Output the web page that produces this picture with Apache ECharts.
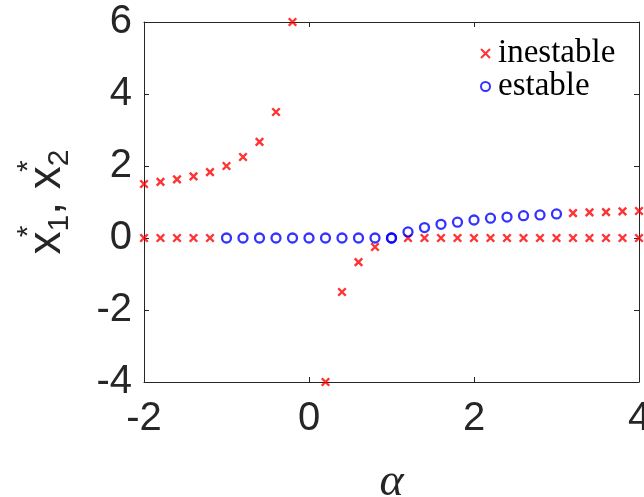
<!DOCTYPE html>
<html>
<head>
<meta charset="utf-8">
<script src="https://cdn.jsdelivr.net/npm/echarts@6/dist/echarts.min.js"></script>
<style>
  html, body { margin: 0; padding: 0; background: #ffffff; }
  #chart { width: 644px; height: 497px; }
</style>
</head>
<body>
<div id="chart"></div>
<script>
// Parameter sweep of alpha and the two equilibrium branches
const alpha = [-2, -1.8, -1.6, -1.4, -1.2, -1, -0.8, -0.6, -0.4, -0.2, 0,
               0.2, 0.4, 0.6, 0.8, 1, 1.2, 1.4, 1.6, 1.8, 2,
               2.2, 2.4, 2.6, 2.8, 3, 3.2, 3.4, 3.6, 3.8, 4];

// trivial equilibrium x1* = 0
const branch1 = [0, 0, 0, 0, 0, 0, 0, 0, 0, 0, 0,
                 0, 0, 0, 0, 0, 0, 0, 0, 0, 0,
                 0, 0, 0, 0, 0, 0, 0, 0, 0, 0];

// non-trivial equilibrium x2* (no value at alpha = 0)
const branch2 = [1.5, 1.56, 1.63, 1.71, 1.83, 2, 2.25, 2.67, 3.5, 6, null,
                 -4, -1.5, -0.67, -0.25, 0, 0.17, 0.29, 0.38, 0.44, 0.5,
                 0.55, 0.58, 0.62, 0.64, 0.67, 0.69, 0.71, 0.72, 0.74, 0.75];

// stability of each point (true = estable)
const stable1 = [false, false, false, false, false, true, true, true, true, true, true,
                 true, true, true, true, true, false, false, false, false, false,
                 false, false, false, false, false, false, false, false, false, false];
const stable2 = [false, false, false, false, false, false, false, false, false, false, false,
                 false, false, false, false, true, true, true, true, true, true,
                 true, true, true, true, true, false, false, false, false, false];

const xTicks = [-2, 0, 2, 4];
const yTicks = [-4, -2, 0, 2, 4, 6];
const seriesNames = ['inestable', 'estable'];

function collect(wantStable) {
  const pts = [];
  alpha.forEach((a, i) => {
    if (branch1[i] !== null && stable1[i] === wantStable) pts.push([a, branch1[i]]);
    if (branch2[i] !== null && stable2[i] === wantStable) pts.push([a, branch2[i]]);
  });
  return pts;
}
const unstablePts = collect(false);
const stablePts = collect(true);

const ink = '#262626';
const sans = 'Liberation Sans';
const cross = 'path://M0,0L10,10M0,10L10,0';

const chart = echarts.init(document.getElementById('chart'), null, { renderer: 'canvas' });

const axisCommon = {
  axisLine: { show: true, onZero: false, lineStyle: { color: ink, width: 1 } },
  axisTick: { show: true, inside: true, length: 5, lineStyle: { color: ink, width: 1 } },
  splitLine: { show: false }
};

chart.setOption({
  animation: false,
  backgroundColor: '#ffffff',
  grid: { left: 144, right: 5, top: 22, bottom: 115, containLabel: false, outerBoundsMode: 'none' },
  legend: {
    orient: 'vertical',
    left: 475,
    top: 32,
    itemWidth: 9,
    itemHeight: 9,
    itemGap: 0,
    textStyle: { fontFamily: 'Liberation Serif', fontSize: 33, lineHeight: 27, color: '#000000', padding: [0, 0, 0, 3] },
    data: seriesNames
  },
  xAxis: [
    Object.assign({
      type: 'value',
      position: 'bottom',
      min: xTicks[0],
      max: xTicks[xTicks.length - 1],
      interval: xTicks[1] - xTicks[0],
      name: 'α',
      nameLocation: 'middle',
      nameGap: 78,
      nameTextStyle: { fontFamily: 'Liberation Serif', fontStyle: 'italic', fontSize: 46, color: ink },
      axisLabel: { fontFamily: sans, fontSize: 40, color: ink, margin: 17 }
    }, axisCommon),
    Object.assign({
      type: 'value',
      position: 'top',
      min: xTicks[0],
      max: xTicks[xTicks.length - 1],
      interval: xTicks[1] - xTicks[0],
      axisLabel: { show: false }
    }, axisCommon)
  ],
  yAxis: [
    Object.assign({
      type: 'value',
      position: 'left',
      min: yTicks[0],
      max: yTicks[yTicks.length - 1],
      interval: yTicks[1] - yTicks[0],
      name: '{x|x}{sup|*}{sub|1}{x|, x}{sup|*}{sub|2}',
      nameLocation: 'middle',
      nameRotate: 90,
      nameGap: 62,
      nameTextStyle: {
        color: ink,
        fontFamily: sans,
        rich: {
          x: { fontFamily: sans, fontSize: 46, color: ink, lineHeight: 70, verticalAlign: 'middle' },
          sub: { fontFamily: sans, fontSize: 30, color: ink, lineHeight: 70, verticalAlign: 'middle', padding: [26, 0, 0, 0] },
          sup: { fontFamily: sans, fontSize: 30, color: ink, width: 0, align: 'left', lineHeight: 70, verticalAlign: 'middle', padding: [0, 0, 36, 0] }
        }
      },
      axisLabel: { fontFamily: sans, fontSize: 40, color: ink, margin: 12 }
    }, axisCommon),
    Object.assign({
      type: 'value',
      position: 'right',
      min: yTicks[0],
      max: yTicks[yTicks.length - 1],
      interval: yTicks[1] - yTicks[0],
      axisLabel: { show: false }
    }, axisCommon)
  ],
  series: [
    {
      name: seriesNames[0],
      type: 'scatter',
      data: unstablePts,
      symbol: cross,
      symbolSize: 7.5,
      clip: false,
      itemStyle: { color: '#ff0000', borderColor: '#ff0000', borderWidth: 2.4 },
      emphasis: { disabled: true }
    },
    {
      name: seriesNames[1],
      type: 'scatter',
      data: stablePts,
      symbol: 'circle',
      symbolSize: 9,
      clip: false,
      itemStyle: { color: 'rgba(0,0,0,0)', borderColor: '#0000ff', borderWidth: 2.3 },
      emphasis: { disabled: true }
    }
  ]
});
</script>
</body>
</html>
